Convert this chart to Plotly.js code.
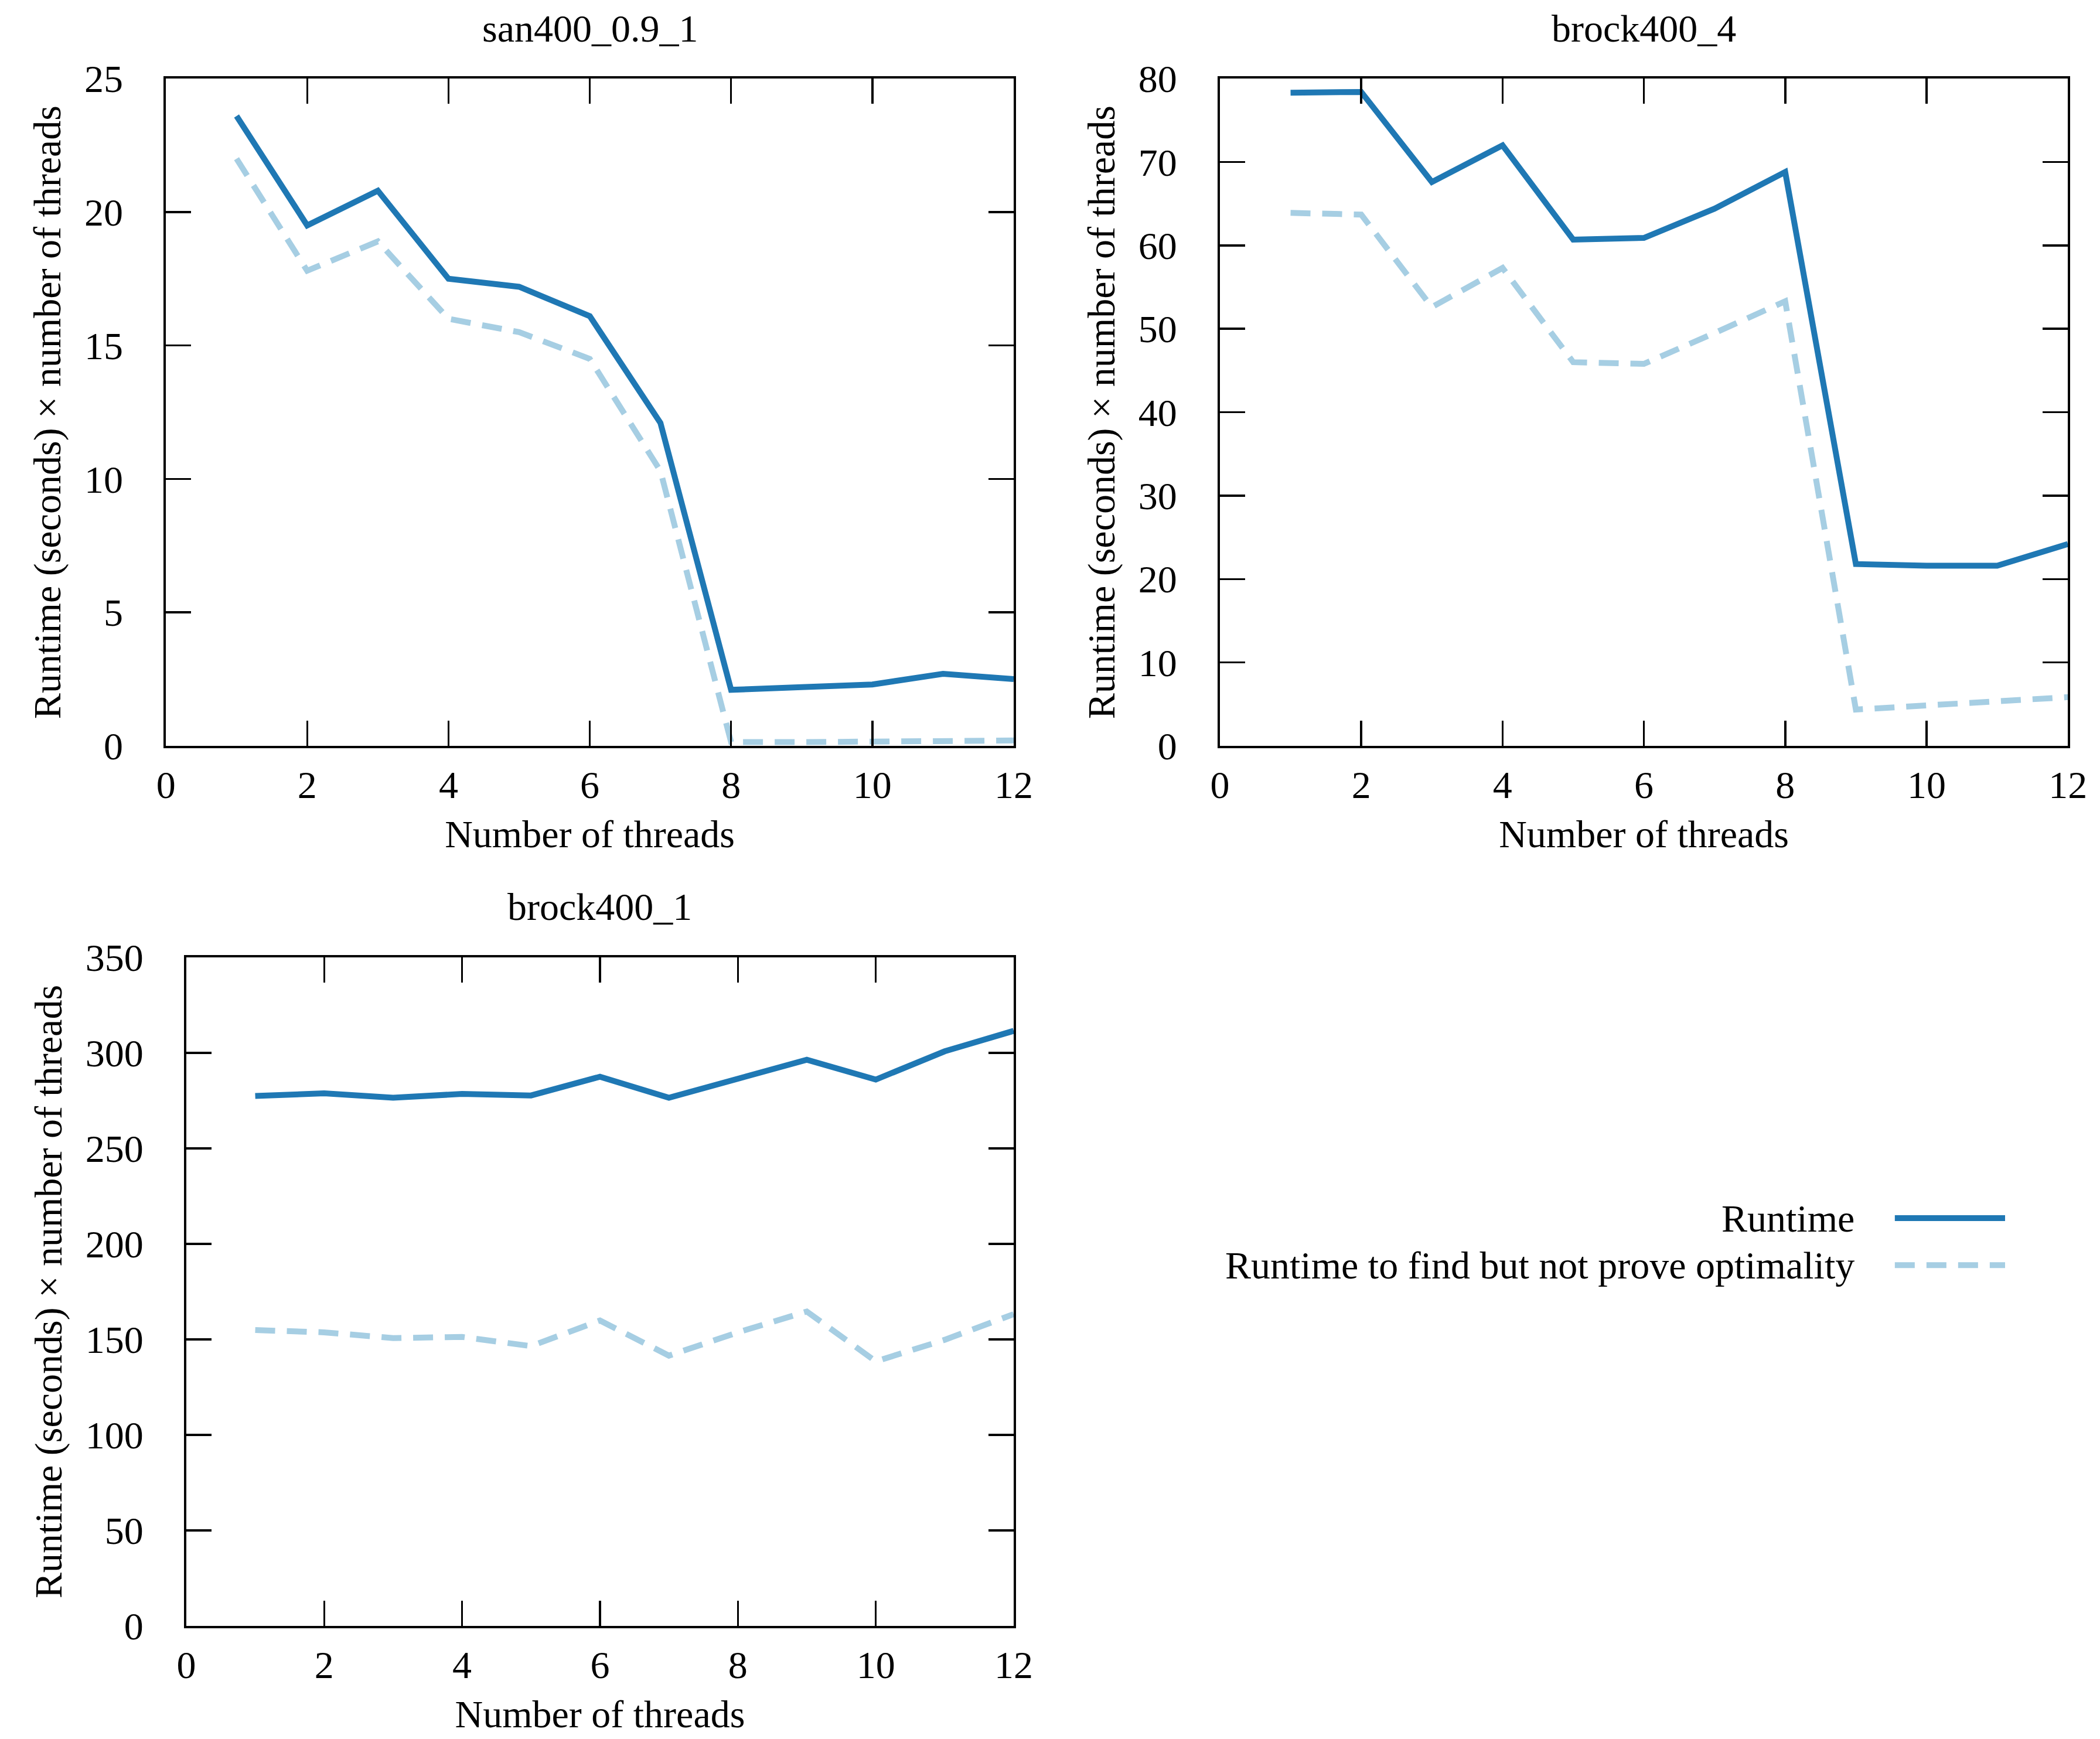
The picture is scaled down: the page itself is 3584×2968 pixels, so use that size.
<!DOCTYPE html>
<html>
<head>
<meta charset="utf-8">
<script src="https://cdn.plot.ly/plotly-3.0.1.min.js"></script>
<style>html,body{margin:0;padding:0;background:#fff;}#chart{width:3584px;height:2968px;}</style>
</head>
<body>
<div id="chart"></div>
<script>
const threads = [1,2,3,4,5,6,7,8,9,10,11,12];
const titles = ["san400_0.9_1", "brock400_4", "brock400_1"];
const seriesNames = ["Runtime", "Runtime to find but not prove optimality"];
const san_runtime = [23.6,19.5,20.8,17.5,17.2,16.1,12.1,2.1,2.2,2.3,2.7,2.5];
const san_find    = [22.0,17.8,18.9,16.0,15.5,14.5,10.3,0.14,0.14,0.16,0.2,0.2];
const b4_runtime  = [78.3,78.4,67.6,72.0,60.7,60.9,64.4,68.8,21.8,21.6,21.6,24.2];
const b4_find     = [63.9,63.7,52.6,57.3,46.0,45.8,49.5,53.3,4.35,4.8,5.25,5.84];
const b1_runtime  = [277.4,278.8,276.5,278.5,277.7,287.5,276.5,286.3,296.4,286.0,300.8,311.5];
const b1_find     = [154.9,153.7,150.7,151.3,146.5,159.9,141.5,153.7,164.6,138.5,149.8,163.2];
const yRanges = [[0,25],[0,80],[0,350]];
const yDtick = [5,10,50];
const xTitle = "Number of threads";
const yTitle = "Runtime (seconds) × number of threads";

const C1 = "#1f78b4", C2 = "#a6cee3";
const FONT = "Liberation Serif, Times New Roman, serif";
const FS = 66;
const LW = 10;
const DASH = "34px,20px";

const data = [];
const sets = [[san_runtime, san_find],[b4_runtime, b4_find],[b1_runtime, b1_find]];
sets.forEach((s, i) => {
  const xa = i === 0 ? "x" : "x" + (i+1);
  const ya = i === 0 ? "y" : "y" + (i+1);
  data.push({x: threads, y: s[0], xaxis: xa, yaxis: ya, type: "scatter", mode: "lines",
    name: seriesNames[0], showlegend: false, line: {color: C1, width: LW}});
  data.push({x: threads, y: s[1], xaxis: xa, yaxis: ya, type: "scatter", mode: "lines",
    name: seriesNames[1], showlegend: false, line: {color: C2, width: LW, dash: DASH}});
});

const domX = [[0.079,0.4827],[0.5809,0.9847],[0.0887,0.4827]];
const domY = [[0.5711,0.9548],[0.5711,0.9548],[0.065,0.4495]];

function xaxis(i){
  return {domain: domX[i], range:[0,12], dtick:2, tick0:0, anchor: i===0?"y":"y"+(i+1),
    showline:true, mirror:"ticks", linecolor:"#000", linewidth:4,
    ticks:"inside", ticklen:43, tickwidth:3.5, tickcolor:"#000",
    showgrid:false, zeroline:false, ticklabelstandoff: 6,
    tickfont:{family:FONT,size:FS,color:"#000"},
    title:{text:xTitle, font:{family:FONT,size:FS,color:"#000"}, standoff: 26}};
}
function yaxis(i){
  return {domain: domY[i], range: yRanges[i], dtick: yDtick[i], tick0:0, anchor: i===0?"x":"x"+(i+1),
    showline:true, mirror:"ticks", linecolor:"#000", linewidth:4,
    ticks:"inside", ticklen:43, tickwidth:3.5, tickcolor:"#000",
    showgrid:false, zeroline:false, ticklabelstandoff: 56,
    tickfont:{family:FONT,size:FS,color:"#000"},
    title:{text:yTitle, font:{family:FONT,size:FS,color:"#000"}, standoff: 20}};
}

const annotations = [];
titles.forEach((t,i) => {
  annotations.push({text:t, xref:"paper", yref:"paper", x:(domX[i][0]+domX[i][1])/2,
    y: domY[i][1] + 0.029, xanchor:"center", yanchor:"middle", showarrow:false,
    font:{family:FONT,size:FS,color:"#000"}});
});
// legend (gnuplot style: right-aligned text, sample on the right)
const legY = [0.2995, 0.2725];
seriesNames.forEach((n,i) => {
  annotations.push({text:n, xref:"paper", yref:"paper", x:0.8834, y:legY[i],
    xanchor:"right", yanchor:"middle", showarrow:false, borderpad:0,
    font:{family:FONT,size:FS,color:"#000"}});
});
const shapes = [
  {type:"line", xref:"paper", yref:"paper", x0:0.9023, x1:0.9548, y0:legY[0], y1:legY[0],
   line:{color:C1, width:LW}},
  {type:"line", xref:"paper", yref:"paper", x0:0.9023, x1:0.9548, y0:legY[1], y1:legY[1],
   line:{color:C2, width:LW, dash:DASH}}
];

const layout = {
  width:3584, height:2968, margin:{l:0,r:0,t:0,b:0},
  paper_bgcolor:"#fff", plot_bgcolor:"#fff", showlegend:false,
  font:{family:FONT,size:FS,color:"#000"},
  xaxis: xaxis(0), yaxis: yaxis(0),
  xaxis2: xaxis(1), yaxis2: yaxis(1),
  xaxis3: xaxis(2), yaxis3: yaxis(2),
  annotations, shapes
};
Plotly.newPlot("chart", data, layout, {displayModeBar:false, staticPlot:true});
</script>
</body>
</html>
